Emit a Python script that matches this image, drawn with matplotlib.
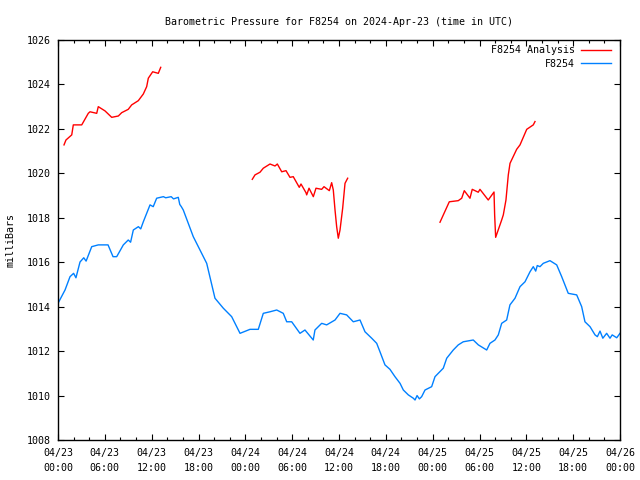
import matplotlib
matplotlib.use("Agg")
import matplotlib.pyplot as plt
from matplotlib.ticker import MultipleLocator

# hours since 2024-04-23 00:00 UTC
station_hours = [0.0, 0.9, 1.54, 2.0, 2.3, 2.82, 3.3, 3.6, 4.32, 5.16, 6.41, 7.05, 7.52,
                 8.37, 9.0, 9.3, 9.65, 10.3, 10.6, 10.93, 11.79, 12.2, 12.64, 13.5, 13.8,
                 14.5, 14.8, 15.41, 15.6, 15.8, 16.05, 17.33, 19.05, 20.11, 21.18, 22.25,
                 23.32, 24.6, 25.66, 26.3, 27.16, 28.02, 28.86, 29.3, 29.94, 31.0, 31.64,
                 32.7, 32.92, 33.78, 34.42, 35.49, 36.13, 36.98, 37.83, 38.69, 39.33,
                 40.19, 40.83, 41.25, 41.89, 42.53, 43.17, 43.82, 44.24, 44.88, 45.52,
                 45.74, 46.0, 46.3, 46.59, 47.02, 47.87, 48.3, 49.36, 49.8, 50.64, 51.28,
                 51.92, 53.2, 53.85, 54.92, 55.34, 55.98, 56.41, 56.84, 57.48, 57.9,
                 58.55, 59.19, 59.83, 60.47, 60.89, 61.2, 61.4, 61.75, 62.17, 63.03,
                 63.89, 64.53, 65.37, 66.45, 67.09, 67.51, 68.16, 68.8, 69.1, 69.44,
                 69.8, 70.29, 70.72, 71.0, 71.58, 72.0]
station_mb = [1014.15, 1014.75, 1015.35, 1015.5, 1015.3, 1016.01, 1016.2, 1016.05,
              1016.70, 1016.78, 1016.78, 1016.25, 1016.25, 1016.78, 1017.0, 1016.9,
              1017.45, 1017.6, 1017.5, 1017.82, 1018.58, 1018.5, 1018.88, 1018.95,
              1018.9, 1018.95, 1018.85, 1018.92, 1018.6, 1018.5, 1018.35, 1017.15,
              1015.95, 1014.38, 1013.93, 1013.55, 1012.80, 1012.98, 1012.98, 1013.70,
              1013.77, 1013.85, 1013.70, 1013.32, 1013.32, 1012.80, 1012.95, 1012.50,
              1012.95, 1013.25, 1013.18, 1013.40, 1013.70, 1013.63, 1013.32, 1013.40,
              1012.87, 1012.58, 1012.35, 1011.97, 1011.38, 1011.18, 1010.85, 1010.55,
              1010.25, 1010.03, 1009.88, 1009.80, 1010.0, 1009.85, 1009.95, 1010.25,
              1010.40, 1010.85, 1011.23, 1011.68, 1012.05, 1012.28, 1012.42, 1012.50,
              1012.28, 1012.05, 1012.35, 1012.50, 1012.73, 1013.25, 1013.40, 1014.08,
              1014.38, 1014.90, 1015.12, 1015.57, 1015.80, 1015.6, 1015.85, 1015.80,
              1015.95, 1016.07, 1015.88, 1015.35, 1014.60, 1014.53, 1014.00, 1013.32,
              1013.10, 1012.73, 1012.65, 1012.9, 1012.58, 1012.8, 1012.58, 1012.73,
              1012.6, 1012.80]

analysis1_hours = [0.77, 1.02, 1.76, 1.96, 3.04, 3.88, 4.1, 4.96, 5.16, 6.02, 6.88, 7.73,
                   8.16, 9.0, 9.44, 10.29, 10.93, 11.36, 11.57, 12.13, 12.85, 13.16]
analysis1_mb = [1021.28, 1021.5, 1021.73, 1022.18, 1022.18, 1022.70, 1022.77, 1022.70,
                1023.0, 1022.81, 1022.52, 1022.58, 1022.73, 1022.88, 1023.08, 1023.27,
                1023.57, 1023.9, 1024.28, 1024.57, 1024.5, 1024.77]

analysis2_hours = [24.89, 25.24, 25.88, 26.3, 27.16, 27.8, 28.1, 28.66, 29.21, 29.72,
                   30.14, 30.91, 31.13, 31.77, 31.86, 32.16, 32.71, 33.05, 33.78, 34.08,
                   34.76, 35.06, 35.27, 35.49, 35.7, 35.91, 36.13, 36.47, 36.77, 37.11]
analysis2_mb = [1019.73, 1019.93, 1020.05, 1020.23, 1020.42, 1020.33, 1020.42, 1020.07,
                1020.12, 1019.82, 1019.85, 1019.37, 1019.52, 1019.13, 1019.03, 1019.33,
                1018.95, 1019.33, 1019.28, 1019.40, 1019.22, 1019.58, 1019.25, 1018.35,
                1017.6, 1017.08, 1017.45, 1018.43, 1019.55, 1019.78]

analysis3_hours = [48.94, 50.13, 51.28, 51.72, 52.05, 52.78, 53.07, 53.84, 54.06, 55.12,
                   55.86, 55.94, 56.07, 56.84, 57.05, 57.39, 57.69, 57.91, 58.76, 59.19,
                   60.05, 60.89, 61.11]
analysis3_mb = [1017.80, 1018.72, 1018.77, 1018.88, 1019.22, 1018.88, 1019.28, 1019.15,
                1019.28, 1018.8, 1019.16, 1018.13, 1017.12, 1017.9, 1018.13, 1018.8,
                1019.93, 1020.45, 1021.08, 1021.28, 1021.98, 1022.18, 1022.33]

tick_hours = [0, 6, 12, 18, 24, 30, 36, 42, 48, 54, 60, 66, 72]
tick_labels = ["04/23\n00:00", "04/23\n06:00", "04/23\n12:00", "04/23\n18:00",
               "04/24\n00:00", "04/24\n06:00", "04/24\n12:00", "04/24\n18:00",
               "04/25\n00:00", "04/25\n06:00", "04/25\n12:00", "04/25\n18:00",
               "04/26\n00:00"]
y_ticks = [1008, 1010, 1012, 1014, 1016, 1018, 1020, 1022, 1024, 1026]

FONT = "DejaVu Sans Mono"
FS = 7.2
RED = "#ff0000"
BLUE = "#0080ff"

fig = plt.figure(figsize=(6.4, 4.8), dpi=100)
ax = fig.add_axes([58 / 640, 40 / 480, 562 / 640, 400 / 480])

ax.plot(analysis1_hours, analysis1_mb, color=RED, lw=1.0, label="F8254 Analysis")
ax.plot(analysis2_hours, analysis2_mb, color=RED, lw=1.0)
ax.plot(analysis3_hours, analysis3_mb, color=RED, lw=1.0)
ax.plot(station_hours, station_mb, color=BLUE, lw=1.0, label="F8254")

ax.set_xlim(0, 72)
ax.set_ylim(1008, 1026)
ax.set_xticks(tick_hours)
ax.set_xticklabels(tick_labels, fontfamily=FONT, fontsize=FS, linespacing=1.6)
ax.xaxis.set_minor_locator(MultipleLocator(2))
ax.set_yticks(y_ticks)
ax.set_yticklabels([str(v) for v in y_ticks], fontfamily=FONT, fontsize=FS)
ax.tick_params(axis="both", which="major", direction="in", length=4, width=0.8,
               top=True, right=True, pad=5, colors="black")
ax.tick_params(axis="x", which="major", pad=6)
ax.tick_params(axis="x", which="minor", direction="in", length=2, width=0.8,
               top=True, bottom=True)
for s in ax.spines.values():
    s.set_linewidth(1.0)

ax.set_ylabel("milliBars", fontfamily=FONT, fontsize=FS, labelpad=8)
ax.set_title("Barometric Pressure for F8254 on 2024-Apr-23 (time in UTC)",
             fontfamily=FONT, fontsize=FS, pad=11)

leg = ax.legend(loc="upper right", frameon=False, markerfirst=False,
                prop={"family": FONT, "size": FS}, handlelength=3.0,
                handletextpad=0.6, labelspacing=0.35, borderaxespad=0.15,
                bbox_to_anchor=(0.993, 1.0))
for t in leg.get_texts():
    t.set_ha("right")
leg._legend_box.align = "right"

fig.savefig("out.png", dpi=100)
